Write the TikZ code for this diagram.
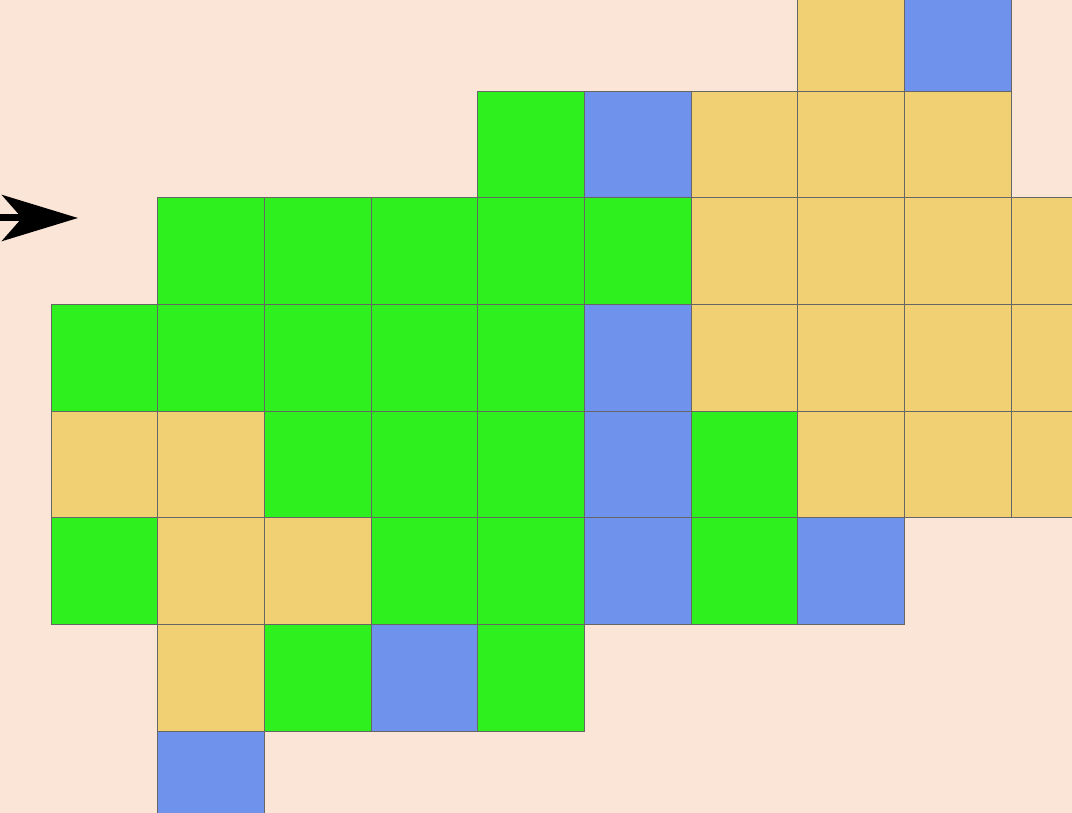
\documentclass[tikz,border=0pt]{standalone}
\usetikzlibrary{arrows.meta}
\definecolor{bg}{RGB}{251,229,214}
\definecolor{cy}{RGB}{240,208,115}
\definecolor{cb}{RGB}{111,147,236}
\definecolor{cg}{RGB}{46,240,31}
\begin{document}
\begin{tikzpicture}[x=1pt,y=-1pt,
  cell/.style={draw=black!60,line width=0.8pt},
  Y/.style={cell,fill=cy}, B/.style={cell,fill=cb}, G/.style={cell,fill=cg}]
\fill[bg] (0,0) rectangle (1072,813);
\useasboundingbox (0,0) rectangle (1072,813);
\def\S{106.67}
\newcommand\cellat[3]{\path[#1] ({51+\S*#2},{-15.7+\S*#3}) rectangle ++(\S,\S);}
% row 0
\cellat{Y}{7}{0}\cellat{B}{8}{0}
% row 1
\cellat{G}{4}{1}\cellat{B}{5}{1}\cellat{Y}{6}{1}\cellat{Y}{7}{1}\cellat{Y}{8}{1}
% row 2
\cellat{G}{1}{2}\cellat{G}{2}{2}\cellat{G}{3}{2}\cellat{G}{4}{2}\cellat{G}{5}{2}\cellat{Y}{6}{2}\cellat{Y}{7}{2}\cellat{Y}{8}{2}\cellat{Y}{9}{2}
% row 3
\cellat{G}{0}{3}\cellat{G}{1}{3}\cellat{G}{2}{3}\cellat{G}{3}{3}\cellat{G}{4}{3}\cellat{B}{5}{3}\cellat{Y}{6}{3}\cellat{Y}{7}{3}\cellat{Y}{8}{3}\cellat{Y}{9}{3}
% row 4
\cellat{Y}{0}{4}\cellat{Y}{1}{4}\cellat{G}{2}{4}\cellat{G}{3}{4}\cellat{G}{4}{4}\cellat{B}{5}{4}\cellat{G}{6}{4}\cellat{Y}{7}{4}\cellat{Y}{8}{4}\cellat{Y}{9}{4}
% row 5
\cellat{G}{0}{5}\cellat{Y}{1}{5}\cellat{Y}{2}{5}\cellat{G}{3}{5}\cellat{G}{4}{5}\cellat{B}{5}{5}\cellat{G}{6}{5}\cellat{B}{7}{5}
% row 6
\cellat{Y}{1}{6}\cellat{G}{2}{6}\cellat{B}{3}{6}\cellat{G}{4}{6}
% row 7
\cellat{B}{1}{7}
% arrow
\coordinate (a0) at (-10,218);
\coordinate (a1) at (78,218);
\draw[line width=7pt,-{Stealth[length=76pt,width=46pt,inset=20pt]}] (a0) -- (a1);
\end{tikzpicture}
\end{document}
